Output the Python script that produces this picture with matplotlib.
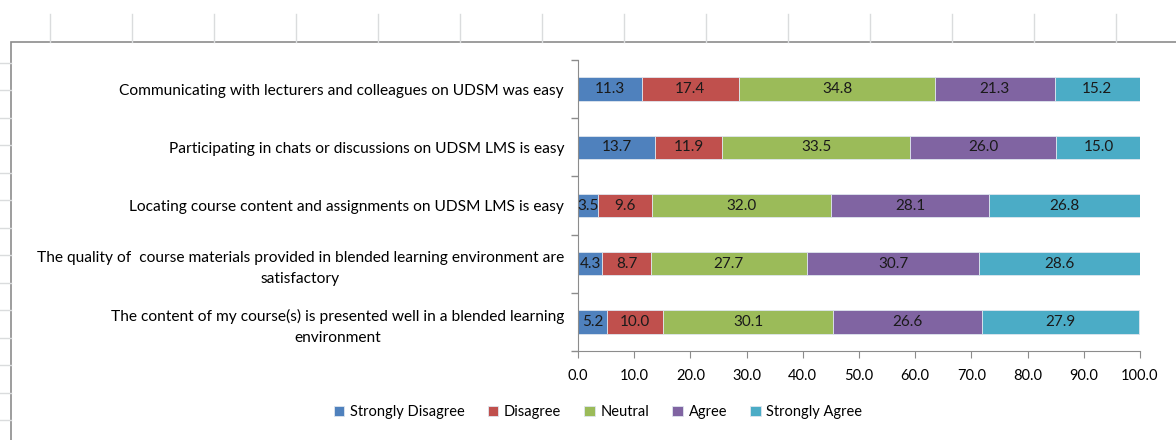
import numpy as np
import matplotlib
matplotlib.use("Agg")
import matplotlib.pyplot as plt
from matplotlib.ticker import FormatStrFormatter
from matplotlib.patches import Rectangle

plt.rcParams['font.family'] = ['Lato', 'DejaVu Sans']

# Datos (porcentaje de respuestas)
categorias = [
    "Communicating with lecturers and colleagues on UDSM was easy",
    "Participating in chats or discussions on UDSM LMS is easy",
    "Locating course content and assignments on UDSM LMS is easy",
    "The quality of  course materials provided in blended learning environment are\nsatisfactory",
    "The content of my course(s) is presented well in a blended learning\nenvironment",
]
series = ["Strongly Disagree", "Disagree", "Neutral", "Agree", "Strongly Agree"]
strongly_disagree = [11.3, 13.7, 3.5, 4.3, 5.2]
disagree = [17.4, 11.9, 9.6, 8.7, 10.0]
neutral = [34.8, 33.5, 32.0, 27.7, 30.1]
agree = [21.3, 26.0, 28.1, 30.7, 26.6]
strongly_agree = [15.2, 15.0, 26.8, 28.6, 27.9]
x_ticks = [0, 10, 20, 30, 40, 50, 60, 70, 80, 90, 100]

colores = ["#4F81BD", "#C0504D", "#9BBB59", "#8064A2", "#4BACC6"]

W, H = 1176, 440
fig = plt.figure(figsize=(W / 100, H / 100), dpi=100)

# Fondo tipo hoja de calculo
bg = fig.add_axes([0, 0, 1, 1], zorder=0)
bg.set_xlim(0, W)
bg.set_ylim(H, 0)
bg.axis("off")
for x in [50, 132, 214, 296, 378, 460, 542, 624, 706, 788, 870, 952, 1034, 1116]:
    bg.plot([x, x], [14, 42], color="#dadcdd", lw=1)
for y in [63, 90, 118, 145, 173, 200, 228, 255, 283, 310, 338, 365, 393, 420]:
    bg.plot([0, 11], [y, y], color="#dadcdd", lw=1)
bg.add_patch(Rectangle((11, 42), W, H, facecolor="white", edgecolor="#8c8c8c", lw=1.2))

ax = fig.add_axes([578 / W, 1 - 351 / H, (1140 - 578) / W, (351 - 60) / H], zorder=1)
ax.patch.set_alpha(0)

datos = [strongly_disagree, disagree, neutral, agree, strongly_agree]
y = np.arange(len(categorias))
izq = np.zeros(len(categorias))
for nombre, vals, col in zip(series, datos, colores):
    vals = np.array(vals)
    barras = ax.barh(y, vals, left=izq, height=0.4, color=col, edgecolor="#dfe6ee",
                     linewidth=0.6, label=nombre)
    for b, v in zip(barras, vals):
        ax.text(b.get_x() + b.get_width() / 2, b.get_y() + b.get_height() / 2,
                f"{v:.1f}", ha="center", va="center", fontsize=11, color="#1a1a1a")
    izq += vals

ax.set_ylim(len(categorias) - 0.5, -0.5)
ax.set_xlim(0, 100)
ax.set_yticks(y)
ax.set_yticklabels(categorias, fontsize=11.2, multialignment="center", linespacing=1.6)
ax.set_yticks(np.arange(-0.5, len(categorias)), minor=True)
ax.tick_params(axis="y", which="major", length=0, pad=10)
ax.tick_params(axis="y", which="minor", length=5, color="#8c8c8c", width=1)
ax.set_xticks(x_ticks)
ax.xaxis.set_major_formatter(FormatStrFormatter("%.1f"))
ax.tick_params(axis="x", length=5, color="#8c8c8c", labelsize=10.5, pad=8)
for s in ["top", "right"]:
    ax.spines[s].set_visible(False)
for s in ["left", "bottom"]:
    ax.spines[s].set_color("#8c8c8c")

fig.legend(loc="center", bbox_to_anchor=(598 / W, 1 - 412 / H), ncol=5, frameon=False,
           fontsize=10.5, handlelength=0.7, handleheight=0.7, handletextpad=0.4,
           columnspacing=1.6)

fig.savefig("out.png", dpi=100)
